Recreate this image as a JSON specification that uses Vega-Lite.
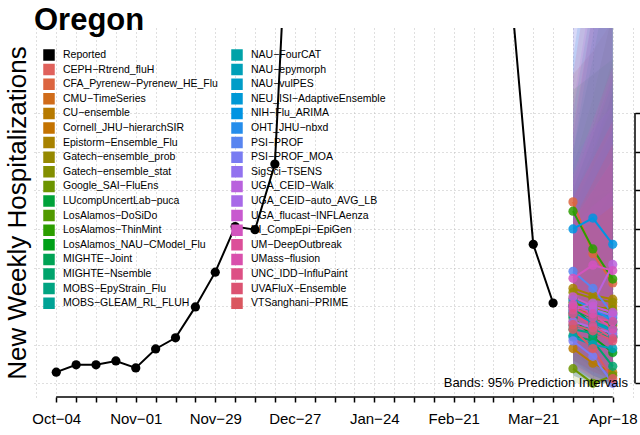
{
  "$schema": "https://vega.github.io/schema/vega-lite/v6.json",
  "width": 601,
  "height": 369,
  "autosize": {"type": "none"},
  "padding": {"left": 34, "top": 28, "right": 5, "bottom": 38},
  "title": {"text": "Oregon", "anchor": "start", "frame": "group", "font": "Liberation Sans", "fontSize": 31, "fontWeight": "bold", "color": "black", "baseline": "alphabetic", "offset": 1, "dy": 33.5},
  "datasets": {
    "reported": [
      {"model": "Reported", "date": "2025-10-04", "value": 14.5},
      {"model": "Reported", "date": "2025-10-11", "value": 24},
      {"model": "Reported", "date": "2025-10-18", "value": 24},
      {"model": "Reported", "date": "2025-10-25", "value": 29},
      {"model": "Reported", "date": "2025-11-01", "value": 20},
      {"model": "Reported", "date": "2025-11-08", "value": 44.5},
      {"model": "Reported", "date": "2025-11-15", "value": 59},
      {"model": "Reported", "date": "2025-11-22", "value": 99},
      {"model": "Reported", "date": "2025-11-29", "value": 144},
      {"model": "Reported", "date": "2025-12-06", "value": 203},
      {"model": "Reported", "date": "2025-12-13", "value": 199},
      {"model": "Reported", "date": "2025-12-20", "value": 284},
      {"model": "Reported", "date": "2025-12-27", "value": 797},
      {"model": "Reported", "date": "2026-01-03", "value": 950},
      {"model": "Reported", "date": "2026-01-10", "value": 900},
      {"model": "Reported", "date": "2026-01-17", "value": 780},
      {"model": "Reported", "date": "2026-01-24", "value": 700},
      {"model": "Reported", "date": "2026-01-31", "value": 640},
      {"model": "Reported", "date": "2026-02-07", "value": 600},
      {"model": "Reported", "date": "2026-02-14", "value": 580},
      {"model": "Reported", "date": "2026-02-21", "value": 560},
      {"model": "Reported", "date": "2026-02-28", "value": 530},
      {"model": "Reported", "date": "2026-03-07", "value": 500},
      {"model": "Reported", "date": "2026-03-14", "value": 473},
      {"model": "Reported", "date": "2026-03-21", "value": 180},
      {"model": "Reported", "date": "2026-03-28", "value": 104}
    ],
    "forecast": [
      {"model": "CEPH-Rtrend_fluH", "date": "2026-04-04", "median": 80, "lower": 35, "upper": 170},
      {"model": "CEPH-Rtrend_fluH", "date": "2026-04-11", "median": 70, "lower": 20, "upper": 210},
      {"model": "CEPH-Rtrend_fluH", "date": "2026-04-18", "median": 60, "lower": 10, "upper": 250},
      {"model": "CFA_Pyrenew-Pyrenew_HE_Flu", "date": "2026-04-04", "median": 235, "lower": 130, "upper": 400},
      {"model": "CFA_Pyrenew-Pyrenew_HE_Flu", "date": "2026-04-11", "median": 168, "lower": 70, "upper": 430},
      {"model": "CFA_Pyrenew-Pyrenew_HE_Flu", "date": "2026-04-18", "median": 130, "lower": 35, "upper": 470},
      {"model": "CMU-TimeSeries", "date": "2026-04-04", "median": 100, "lower": 50, "upper": 190},
      {"model": "CMU-TimeSeries", "date": "2026-04-11", "median": 85, "lower": 30, "upper": 230},
      {"model": "CMU-TimeSeries", "date": "2026-04-18", "median": 75, "lower": 15, "upper": 270},
      {"model": "CU-ensemble", "date": "2026-04-04", "median": 45, "lower": 10, "upper": 120},
      {"model": "CU-ensemble", "date": "2026-04-11", "median": 26, "lower": 0, "upper": 140},
      {"model": "CU-ensemble", "date": "2026-04-18", "median": 14, "lower": 0, "upper": 160},
      {"model": "Cornell_JHU-hierarchSIR", "date": "2026-04-04", "median": 90, "lower": 40, "upper": 210},
      {"model": "Cornell_JHU-hierarchSIR", "date": "2026-04-11", "median": 95, "lower": 30, "upper": 290},
      {"model": "Cornell_JHU-hierarchSIR", "date": "2026-04-18", "median": 100, "lower": 20, "upper": 380},
      {"model": "Epistorm-Ensemble_Flu", "date": "2026-04-04", "median": 123, "lower": 60, "upper": 240},
      {"model": "Epistorm-Ensemble_Flu", "date": "2026-04-11", "median": 114, "lower": 40, "upper": 300},
      {"model": "Epistorm-Ensemble_Flu", "date": "2026-04-18", "median": 109, "lower": 25, "upper": 360},
      {"model": "Gatech-ensemble_prob", "date": "2026-04-04", "median": 118, "lower": 50, "upper": 260},
      {"model": "Gatech-ensemble_prob", "date": "2026-04-11", "median": 110, "lower": 30, "upper": 330},
      {"model": "Gatech-ensemble_prob", "date": "2026-04-18", "median": 105, "lower": 15, "upper": 420},
      {"model": "Gatech-ensemble_stat", "date": "2026-04-04", "median": 110, "lower": 45, "upper": 280},
      {"model": "Gatech-ensemble_stat", "date": "2026-04-11", "median": 100, "lower": 25, "upper": 370},
      {"model": "Gatech-ensemble_stat", "date": "2026-04-18", "median": 95, "lower": 10, "upper": 480},
      {"model": "Google_SAI-FluEns", "date": "2026-04-04", "median": 19, "lower": 0, "upper": 110},
      {"model": "Google_SAI-FluEns", "date": "2026-04-11", "median": 0, "lower": 0, "upper": 160},
      {"model": "Google_SAI-FluEns", "date": "2026-04-18", "median": 10, "lower": 0, "upper": 200},
      {"model": "LUcompUncertLab-puca", "date": "2026-04-04", "median": 100, "lower": 30, "upper": 300},
      {"model": "LUcompUncertLab-puca", "date": "2026-04-11", "median": 75, "lower": 10, "upper": 420},
      {"model": "LUcompUncertLab-puca", "date": "2026-04-18", "median": 60, "lower": 0, "upper": 560},
      {"model": "LosAlamos-DoSiDo", "date": "2026-04-04", "median": 105, "lower": 40, "upper": 250},
      {"model": "LosAlamos-DoSiDo", "date": "2026-04-11", "median": 95, "lower": 20, "upper": 320},
      {"model": "LosAlamos-DoSiDo", "date": "2026-04-18", "median": 90, "lower": 5, "upper": 400},
      {"model": "LosAlamos-ThinMint", "date": "2026-04-04", "median": 223, "lower": 120, "upper": 380},
      {"model": "LosAlamos-ThinMint", "date": "2026-04-11", "median": 174, "lower": 70, "upper": 400},
      {"model": "LosAlamos-ThinMint", "date": "2026-04-18", "median": 135, "lower": 40, "upper": 420},
      {"model": "LosAlamos_NAU-CModel_Flu", "date": "2026-04-04", "median": 85, "lower": 40, "upper": 180},
      {"model": "LosAlamos_NAU-CModel_Flu", "date": "2026-04-11", "median": 60, "lower": 20, "upper": 190},
      {"model": "LosAlamos_NAU-CModel_Flu", "date": "2026-04-18", "median": 40, "lower": 5, "upper": 210},
      {"model": "MIGHTE-Joint", "date": "2026-04-04", "median": 95, "lower": 30, "upper": 250},
      {"model": "MIGHTE-Joint", "date": "2026-04-11", "median": 85, "lower": 15, "upper": 320},
      {"model": "MIGHTE-Joint", "date": "2026-04-18", "median": 78, "lower": 5, "upper": 390},
      {"model": "MIGHTE-Nsemble", "date": "2026-04-04", "median": 62, "lower": 15, "upper": 180},
      {"model": "MIGHTE-Nsemble", "date": "2026-04-11", "median": 55, "lower": 5, "upper": 240},
      {"model": "MIGHTE-Nsemble", "date": "2026-04-18", "median": 22, "lower": 0, "upper": 250},
      {"model": "MOBS-EpyStrain_Flu", "date": "2026-04-04", "median": 70, "lower": 25, "upper": 220},
      {"model": "MOBS-EpyStrain_Flu", "date": "2026-04-11", "median": 65, "lower": 10, "upper": 300},
      {"model": "MOBS-EpyStrain_Flu", "date": "2026-04-18", "median": 60, "lower": 0, "upper": 380},
      {"model": "MOBS-GLEAM_RL_FLUH", "date": "2026-04-04", "median": 75, "lower": 30, "upper": 200},
      {"model": "MOBS-GLEAM_RL_FLUH", "date": "2026-04-11", "median": 70, "lower": 15, "upper": 260},
      {"model": "MOBS-GLEAM_RL_FLUH", "date": "2026-04-18", "median": 62, "lower": 5, "upper": 330},
      {"model": "NAU-FourCAT", "date": "2026-04-04", "median": 88, "lower": 20, "upper": 350},
      {"model": "NAU-FourCAT", "date": "2026-04-11", "median": 80, "lower": 5, "upper": 500},
      {"model": "NAU-FourCAT", "date": "2026-04-18", "median": 70, "lower": 0, "upper": 650},
      {"model": "NAU-epymorph", "date": "2026-04-04", "median": 60, "lower": 10, "upper": 300},
      {"model": "NAU-epymorph", "date": "2026-04-11", "median": 50, "lower": 0, "upper": 450},
      {"model": "NAU-epymorph", "date": "2026-04-18", "median": 45, "lower": 0, "upper": 600},
      {"model": "NAU-vulPES", "date": "2026-04-04", "median": 92, "lower": 25, "upper": 320},
      {"model": "NAU-vulPES", "date": "2026-04-11", "median": 78, "lower": 10, "upper": 480},
      {"model": "NAU-vulPES", "date": "2026-04-18", "median": 68, "lower": 0, "upper": 620},
      {"model": "NEU_ISI-AdaptiveEnsemble", "date": "2026-04-04", "median": 100, "lower": 45, "upper": 230},
      {"model": "NEU_ISI-AdaptiveEnsemble", "date": "2026-04-11", "median": 92, "lower": 30, "upper": 280},
      {"model": "NEU_ISI-AdaptiveEnsemble", "date": "2026-04-18", "median": 85, "lower": 20, "upper": 330},
      {"model": "NIH-Flu_ARIMA", "date": "2026-04-04", "median": 200, "lower": 90, "upper": 420},
      {"model": "NIH-Flu_ARIMA", "date": "2026-04-11", "median": 214, "lower": 70, "upper": 600},
      {"model": "NIH-Flu_ARIMA", "date": "2026-04-18", "median": 180, "lower": 40, "upper": 700},
      {"model": "OHT_JHU-nbxd", "date": "2026-04-04", "median": 108, "lower": 30, "upper": 500},
      {"model": "OHT_JHU-nbxd", "date": "2026-04-11", "median": 98, "lower": 10, "upper": 700},
      {"model": "OHT_JHU-nbxd", "date": "2026-04-18", "median": 80, "lower": 0, "upper": 850},
      {"model": "PSI-PROF", "date": "2026-04-04", "median": 145, "lower": 70, "upper": 290},
      {"model": "PSI-PROF", "date": "2026-04-11", "median": 123, "lower": 45, "upper": 330},
      {"model": "PSI-PROF", "date": "2026-04-18", "median": 90, "lower": 20, "upper": 360},
      {"model": "PSI-PROF_MOA", "date": "2026-04-04", "median": 55, "lower": 10, "upper": 200},
      {"model": "PSI-PROF_MOA", "date": "2026-04-11", "median": 35, "lower": 0, "upper": 230},
      {"model": "PSI-PROF_MOA", "date": "2026-04-18", "median": 0, "lower": 0, "upper": 250},
      {"model": "SigSci-TSENS", "date": "2026-04-04", "median": 100, "lower": 40, "upper": 260},
      {"model": "SigSci-TSENS", "date": "2026-04-11", "median": 96, "lower": 25, "upper": 330},
      {"model": "SigSci-TSENS", "date": "2026-04-18", "median": 88, "lower": 10, "upper": 400},
      {"model": "UGA_CEID-Walk", "date": "2026-04-04", "median": 95, "lower": 20, "upper": 480},
      {"model": "UGA_CEID-Walk", "date": "2026-04-11", "median": 104, "lower": 10, "upper": 650},
      {"model": "UGA_CEID-Walk", "date": "2026-04-18", "median": 154, "lower": 5, "upper": 800},
      {"model": "UGA_CEID-auto_AVG_LB", "date": "2026-04-04", "median": 80, "lower": 20, "upper": 360},
      {"model": "UGA_CEID-auto_AVG_LB", "date": "2026-04-11", "median": 72, "lower": 5, "upper": 520},
      {"model": "UGA_CEID-auto_AVG_LB", "date": "2026-04-18", "median": 65, "lower": 0, "upper": 680},
      {"model": "UGA_flucast-INFLAenza", "date": "2026-04-04", "median": 112, "lower": 50, "upper": 270},
      {"model": "UGA_flucast-INFLAenza", "date": "2026-04-11", "median": 100, "lower": 30, "upper": 340},
      {"model": "UGA_flucast-INFLAenza", "date": "2026-04-18", "median": 92, "lower": 15, "upper": 410},
      {"model": "UI_CompEpi-EpiGen", "date": "2026-04-04", "median": 136, "lower": 60, "upper": 330},
      {"model": "UI_CompEpi-EpiGen", "date": "2026-04-11", "median": 153, "lower": 50, "upper": 480},
      {"model": "UI_CompEpi-EpiGen", "date": "2026-04-18", "median": 146, "lower": 35, "upper": 560},
      {"model": "UM-DeepOutbreak", "date": "2026-04-04", "median": 98, "lower": 40, "upper": 240},
      {"model": "UM-DeepOutbreak", "date": "2026-04-11", "median": 85, "lower": 25, "upper": 290},
      {"model": "UM-DeepOutbreak", "date": "2026-04-18", "median": 80, "lower": 10, "upper": 340},
      {"model": "UMass-flusion", "date": "2026-04-04", "median": 102, "lower": 50, "upper": 210},
      {"model": "UMass-flusion", "date": "2026-04-11", "median": 90, "lower": 30, "upper": 250},
      {"model": "UMass-flusion", "date": "2026-04-18", "median": 70, "lower": 15, "upper": 290},
      {"model": "UNC_IDD-InfluPaint", "date": "2026-04-04", "median": 90, "lower": 20, "upper": 400},
      {"model": "UNC_IDD-InfluPaint", "date": "2026-04-11", "median": 75, "lower": 5, "upper": 560},
      {"model": "UNC_IDD-InfluPaint", "date": "2026-04-18", "median": 58, "lower": 0, "upper": 700},
      {"model": "UVAFluX-Ensemble", "date": "2026-04-04", "median": 76, "lower": 30, "upper": 210},
      {"model": "UVAFluX-Ensemble", "date": "2026-04-11", "median": 68, "lower": 15, "upper": 260},
      {"model": "UVAFluX-Ensemble", "date": "2026-04-18", "median": 55, "lower": 5, "upper": 310},
      {"model": "VTSanghani-PRIME", "date": "2026-04-04", "median": 70, "lower": 25, "upper": 190},
      {"model": "VTSanghani-PRIME", "date": "2026-04-11", "median": 45, "lower": 5, "upper": 210},
      {"model": "VTSanghani-PRIME", "date": "2026-04-18", "median": 6, "lower": 0, "upper": 230}
    ]
  },
  "layer": [
    {
      "data": {"name": "forecast"},
      "mark": {"type": "area", "fillOpacity": 0.15, "clip": true},
      "encoding": {
        "x": {"field": "date", "type": "temporal", "scale": {"type": "utc", "domain": [1758858624000, 1777147776000], "nice": false},
          "axis": {"orient": "top", "values": [1758931200000, 1759536000000, 1760140800000, 1760745600000, 1761350400000, 1761955200000, 1762560000000, 1763164800000, 1763769600000, 1764374400000, 1764979200000, 1765584000000, 1766188800000, 1766793600000, 1767398400000, 1768003200000, 1768608000000, 1769212800000, 1769817600000, 1770422400000, 1771027200000, 1771632000000, 1772236800000, 1772841600000, 1773446400000, 1774051200000, 1774656000000, 1775260800000, 1775865600000, 1776470400000, 1777075200000],
            "grid": true, "gridColor": "#BEBEBE", "gridDash": [1, 3], "gridWidth": 1, "ticks": false, "labels": false, "domain": false, "title": null}},
        "y": {"field": "lower", "type": "quantitative", "stack": null, "scale": {"domain": [-17.7, 460.2], "nice": false, "zero": false},
          "axis": {"orient": "left", "grid": false, "ticks": false, "labels": false, "domain": false, "title": "New Weekly Hospitalizations", "titleFont": "Liberation Sans", "titleFontSize": 26, "titleFontWeight": "normal", "titleColor": "black", "titleBaseline": "alphabetic", "titlePadding": 9}},
        "y2": {"field": "upper"},
        "color": {"field": "model", "type": "nominal",
          "scale": {
            "domain": ["Reported", "CEPH-Rtrend_fluH", "CFA_Pyrenew-Pyrenew_HE_Flu", "CMU-TimeSeries", "CU-ensemble", "Cornell_JHU-hierarchSIR", "Epistorm-Ensemble_Flu", "Gatech-ensemble_prob", "Gatech-ensemble_stat", "Google_SAI-FluEns", "LUcompUncertLab-puca", "LosAlamos-DoSiDo", "LosAlamos-ThinMint", "LosAlamos_NAU-CModel_Flu", "MIGHTE-Joint", "MIGHTE-Nsemble", "MOBS-EpyStrain_Flu", "MOBS-GLEAM_RL_FLUH", "NAU-FourCAT", "NAU-epymorph", "NAU-vulPES", "NEU_ISI-AdaptiveEnsemble", "NIH-Flu_ARIMA", "OHT_JHU-nbxd", "PSI-PROF", "PSI-PROF_MOA", "SigSci-TSENS", "UGA_CEID-Walk", "UGA_CEID-auto_AVG_LB", "UGA_flucast-INFLAenza", "UI_CompEpi-EpiGen", "UM-DeepOutbreak", "UMass-flusion", "UNC_IDD-InfluPaint", "UVAFluX-Ensemble", "VTSanghani-PRIME"],
            "range": ["#000000", "#E0625C", "#DC6540", "#D06C1A", "#B77A00", "#C47300", "#A88200", "#968900", "#838F00", "#6C9500", "#00A23A", "#519A00", "#2C9E00", "#00A018", "#00A355", "#00A46C", "#00A482", "#00A396", "#00A2A8", "#00A0B8", "#009DC8", "#0099D6", "#0094E2", "#258DEB", "#5885F0", "#797CF2", "#9373EF", "#B962DD", "#A86AE8", "#C85ACF", "#D254BE", "#DC4F99", "#D950AC", "#DD5085", "#DC5372", "#DA5860"]
          },
          "legend": {"orient": "none", "legendX": 9, "legendY": 21, "columns": 2, "title": null, "padding": 0, "symbolLimit": 40,
            "symbolType": "square", "symbolSize": 100, "symbolStrokeColor": "black", "symbolStrokeWidth": 1.5, "symbolOpacity": 1,
            "labelFont": "Liberation Sans", "labelFontSize": 10.5, "labelColor": "black", "labelOffset": 8, "labelLimit": 300,
            "rowPadding": -1.4, "columnPadding": 11,
            "labelExpr": "replace(datum.label, '-', '\u2212')",
            "encoding": {"symbols": {"update": {"fill": {"scale": "color", "field": "value"}, "stroke": {"value": "black"}, "strokeWidth": {"value": 1.5}, "opacity": {"value": 1}, "fillOpacity": {"value": 1}}}}}
        }
      }
    },
    {
      "data": {"name": "reported"},
      "mark": {"type": "line", "color": "black", "strokeWidth": 2, "clip": true},
      "encoding": {
        "x": {"field": "date", "type": "temporal", "axis": null},
        "y": {"field": "value", "type": "quantitative", "axis": null},
        "color": {"field": "model", "type": "nominal"}
      }
    },
    {
      "data": {"name": "reported"},
      "mark": {"type": "point", "filled": true, "size": 85, "opacity": 1, "clip": true},
      "encoding": {
        "x": {"field": "date", "type": "temporal", "axis": null},
        "y": {"field": "value", "type": "quantitative", "axis": null},
        "color": {"field": "model", "type": "nominal"}
      }
    },
    {
      "data": {"name": "forecast"},
      "mark": {"type": "line", "strokeWidth": 2, "clip": true},
      "encoding": {
        "x": {"field": "date", "type": "temporal",
          "axis": {"orient": "bottom", "values": [1759536000000, 1760140800000, 1760745600000, 1761350400000, 1761955200000, 1762560000000, 1763164800000, 1763769600000, 1764374400000, 1764979200000, 1765584000000, 1766188800000, 1766793600000, 1767398400000, 1768003200000, 1768608000000, 1769212800000, 1769817600000, 1770422400000, 1771027200000, 1771632000000, 1772236800000, 1772841600000, 1773446400000, 1774051200000, 1774656000000, 1775260800000, 1775865600000, 1776470400000],
            "grid": false, "domain": false, "ticks": true, "tickSize": 5, "tickColor": "black", "tickWidth": 1.5,
            "labelExpr": "round((datum.value - 1759536000000) / 604800000) % 4 == 0 ? replace(utcFormat(datum.value, '%b-%d'), '-', '\u2212') : ''",
            "labelFont": "Liberation Sans", "labelFontSize": 15, "labelColor": "black", "labelPadding": 9, "labelOverlap": false, "labelFlush": false, "title": null}},
        "y": {"field": "median", "type": "quantitative",
          "axis": {"orient": "right", "values": [0, 50, 100, 150, 200, 250, 300, 350], "grid": true, "gridColor": "#BEBEBE", "gridDash": [1, 3], "gridWidth": 1, "labels": false, "ticks": true, "tickSize": 7, "tickColor": "black", "tickWidth": 1.5, "domain": false, "title": null}},
        "color": {"field": "model", "type": "nominal"}
      }
    },
    {
      "data": {"name": "forecast"},
      "mark": {"type": "point", "filled": true, "size": 85, "opacity": 0.85, "clip": true},
      "encoding": {
        "x": {"field": "date", "type": "temporal", "axis": null},
        "y": {"field": "median", "type": "quantitative", "axis": null},
        "color": {"field": "model", "type": "nominal"}
      }
    },
    {
      "data": {"values": [{"axis": "x"}]},
      "mark": {"type": "rule", "color": "black", "strokeWidth": 1.5, "clip": false},
      "encoding": {
        "x": {"datum": 1759536000000, "type": "temporal", "axis": null},
        "x2": {"datum": 1776470400000},
        "y": {"datum": -17.7, "type": "quantitative", "axis": null}
      }
    },
    {
      "data": {"values": [{"axis": "y"}]},
      "mark": {"type": "rule", "color": "black", "strokeWidth": 1.5, "clip": false},
      "encoding": {
        "x": {"datum": 1777147776000, "type": "temporal", "axis": null},
        "y": {"datum": 0, "type": "quantitative", "axis": null},
        "y2": {"datum": 350}
      }
    },
    {
      "data": {"values": [{"note": "Bands: 95% Prediction Intervals"}]},
      "mark": {"type": "text", "align": "right", "baseline": "alphabetic", "font": "Liberation Sans", "fontSize": 13, "color": "black", "dx": -7, "dy": -10, "clip": false},
      "encoding": {
        "x": {"datum": 1777147776000, "type": "temporal", "axis": null},
        "y": {"datum": -17.7, "type": "quantitative", "axis": null},
        "text": {"field": "note"}
      }
    }
  ],
  "config": {
    "view": {"stroke": null},
    "font": "Liberation Sans",
    "axis": {"minExtent": 0}
  }
}
